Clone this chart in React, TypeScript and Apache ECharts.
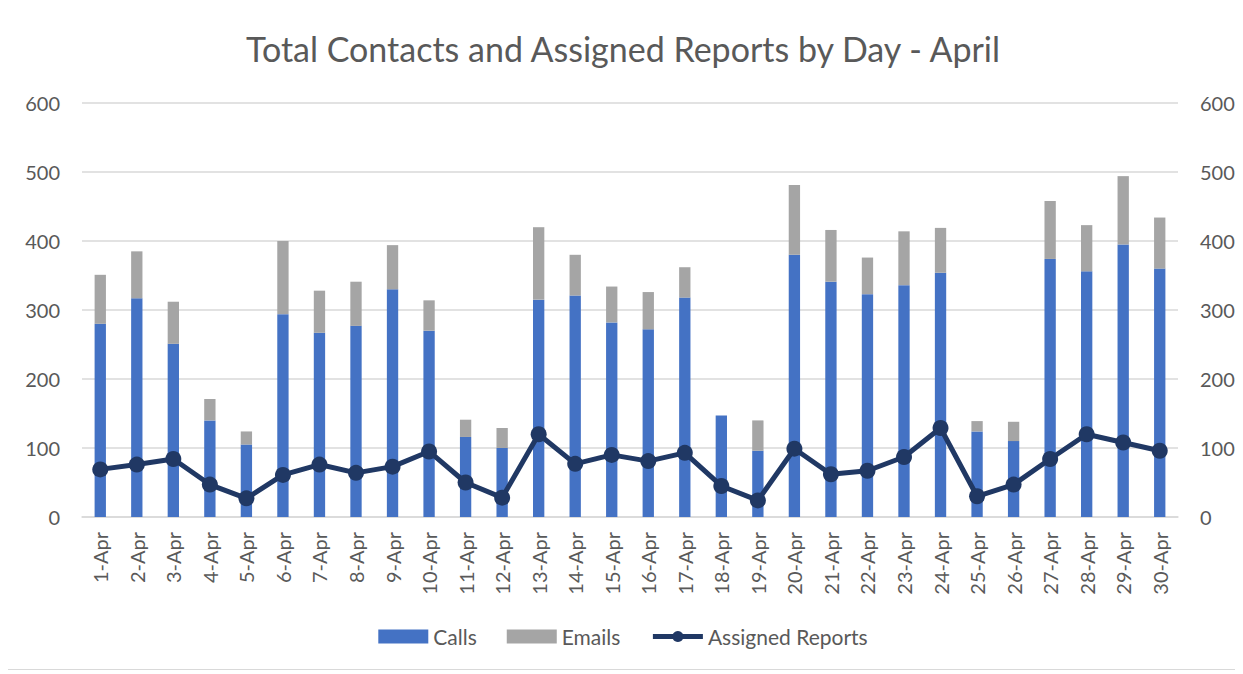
import React, { useEffect, useRef } from "react";
import * as echarts from "echarts";

const days = Array.from({ length: 30 }, (_, i) => `${i + 1}-Apr`);
const calls = [280, 317, 251, 140, 105, 294, 267, 277, 330, 270, 116, 100, 315, 321, 282, 272, 318, 147, 96, 380, 341, 323, 336, 354, 124, 110, 374, 356, 395, 360];
const totals = [351, 385, 312, 171, 124, 400, 328, 341, 394, 314, 141, 129, 420, 380, 334, 326, 362, 147, 140, 481, 416, 376, 414, 419, 139, 138, 458, 423, 494, 434];
const emails = totals.map((t, i) => t - calls[i]);
const assigned = [69, 76, 84, 47, 27, 61, 76, 64, 73, 95, 50, 28, 120, 77, 90, 81, 93, 45, 24, 99, 62, 67, 87, 129, 30, 47, 84, 120, 108, 96];

const FONT = "Lato, 'Open Sans', sans-serif";
const TXT = "#595959";

export default function App() {
  const ref = useRef<HTMLDivElement>(null);
  useEffect(() => {
    const chart = echarts.init(ref.current!, null, { renderer: "svg" });
    const yAxisCommon = {
      type: "value",
      min: 0,
      max: 600,
      interval: 100,
      axisLine: { show: false },
      axisTick: { show: false },
      axisLabel: { color: TXT, fontSize: 20, fontFamily: FONT, margin: 22 },
    };
    chart.setOption({
      animation: false,
      backgroundColor: "#fff",
      textStyle: { fontFamily: FONT },
      title: {
        text: "Total Contacts and Assigned Reports by Day - April",
        left: "center",
        top: 18,
        textStyle: { color: TXT, fontSize: 34, fontWeight: "normal", fontFamily: FONT },
      },
      grid: { left: 76, right: 62, top: 95, bottom: 152 },
      legend: {
        bottom: 17,
        left: "center",
        itemGap: 30,
        itemWidth: 50,
        itemHeight: 14,
        textStyle: { color: TXT, fontSize: 21, fontFamily: FONT },
        data: [
          { name: "Calls", icon: "rect" },
          { name: "Emails", icon: "rect" },
          { name: "Assigned Reports", lineStyle: { width: 5 } },
        ],
      },
      xAxis: {
        type: "category",
        data: days,
        axisLine: { lineStyle: { color: "#d9d9d9", width: 1.5 } },
        axisTick: { show: false },
        axisLabel: { color: TXT, fontSize: 20, fontFamily: FONT, rotate: 90, margin: 15, interval: 0 },
      },
      yAxis: [
        { ...yAxisCommon, splitLine: { lineStyle: { color: "#d9d9d9", width: 1.5 } } },
        { ...yAxisCommon, position: "right", splitLine: { show: false } },
      ],
      series: [
        {
          name: "Calls",
          type: "bar",
          stack: "c",
          data: calls,
          barWidth: "31%",
          itemStyle: { color: "#4472c4" },
        },
        {
          name: "Emails",
          type: "bar",
          stack: "c",
          data: emails,
          barWidth: "31%",
          itemStyle: { color: "#a5a5a5" },
        },
        {
          name: "Assigned Reports",
          type: "line",
          yAxisIndex: 1,
          data: assigned,
          symbol: "circle",
          symbolSize: 16,
          lineStyle: { color: "#203864", width: 5 },
          itemStyle: { color: "#203864" },
        },
      ],
    });
    return () => chart.dispose();
  }, []);
  return (
    <div
      ref={ref}
      style={{
        width: 1235,
        height: 662,
        borderLeft: "1.5px solid #d9d9d9",
        borderBottom: "1.5px solid #d9d9d9",
        boxSizing: "border-box",
        margin: "0 0 0 -3px",
      }}
    />
  );
}
